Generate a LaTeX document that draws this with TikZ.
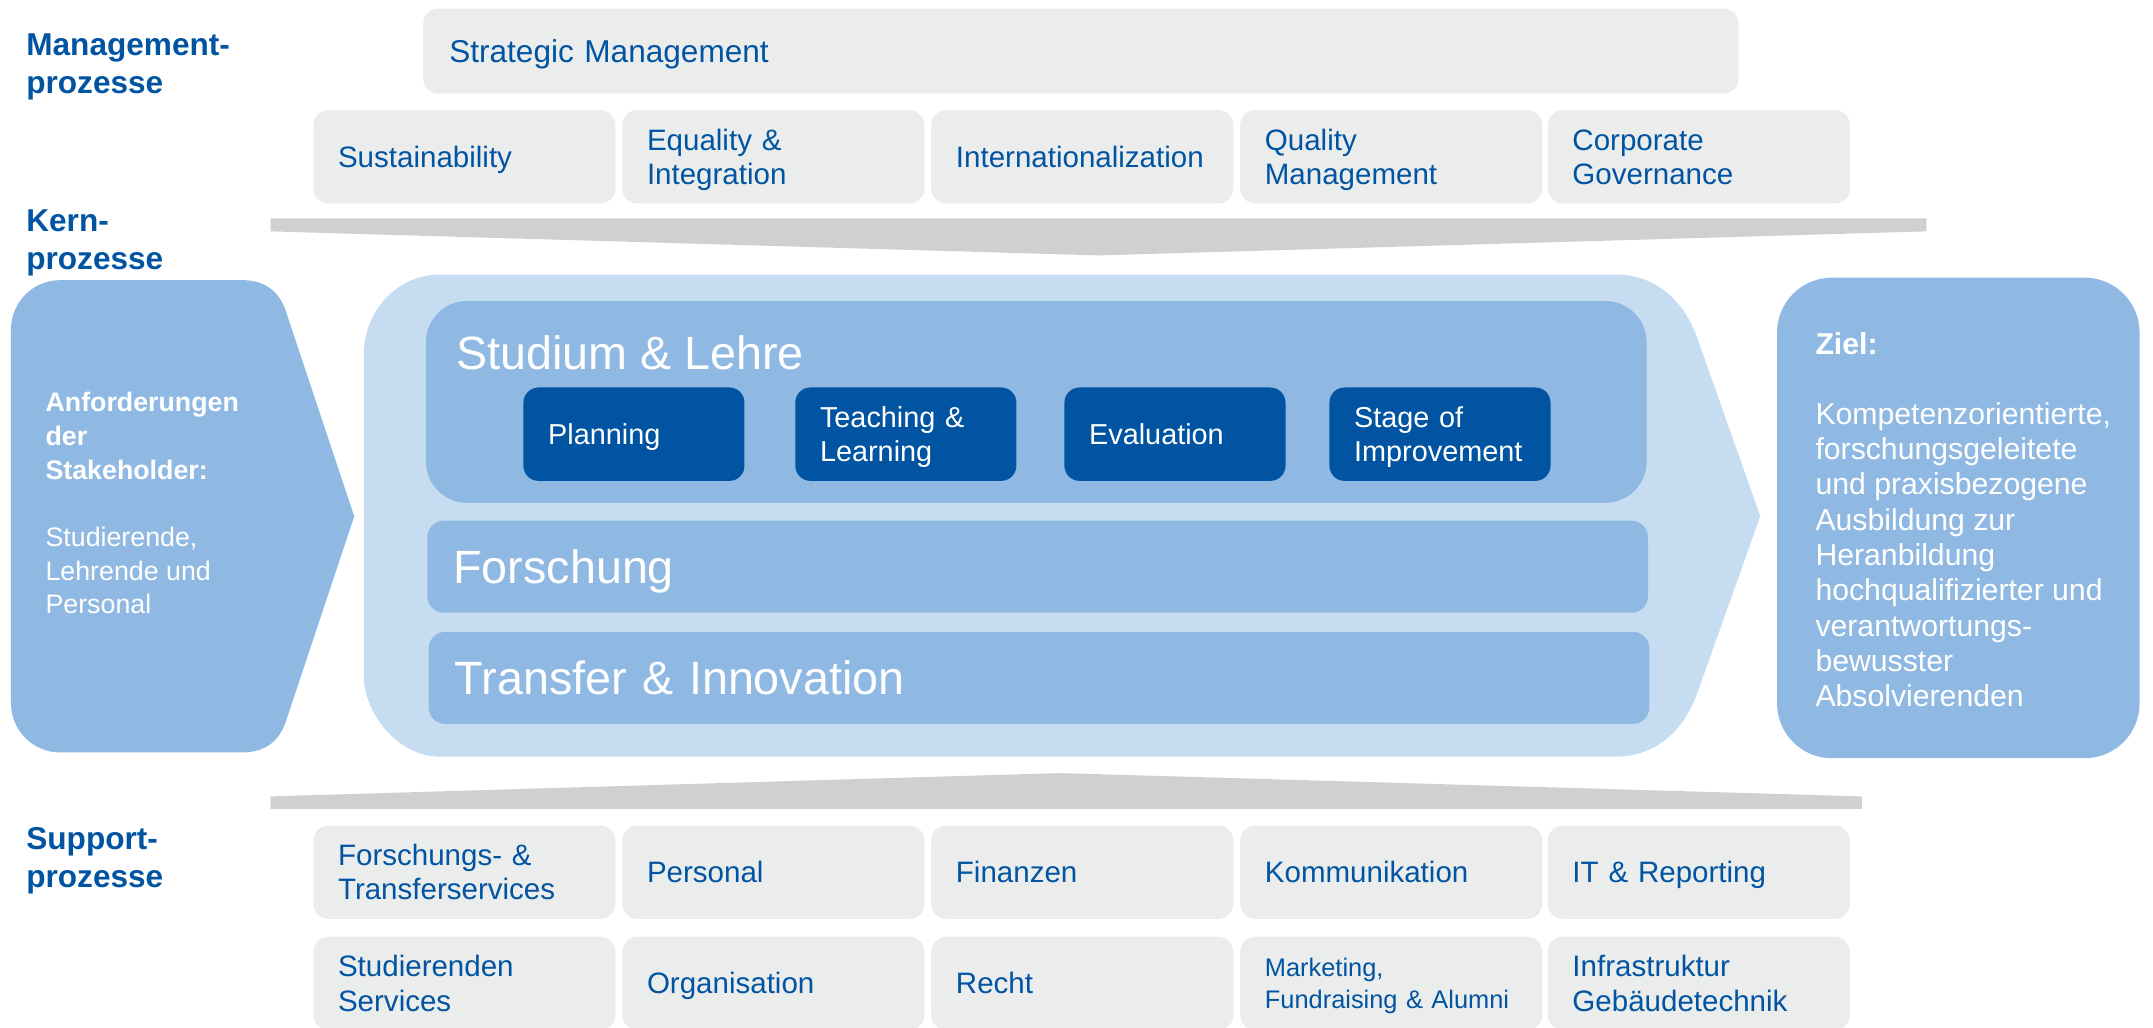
\documentclass[tikz,border=0pt]{standalone}
\usepackage{fontspec}
\setmainfont{Liberation Sans}
\definecolor{grayF}{RGB}{235,236,236}
\definecolor{barG}{RGB}{207,208,210}
\definecolor{blueL}{RGB}{143,185,227}
\definecolor{blueP}{RGB}{198,221,241}
\definecolor{blueD}{RGB}{0,84,161}
\definecolor{txtB}{RGB}{0,84,161}
\newcommand\capTop{\rule{0pt}{0.926em}}
\newcommand\capBot{\rule[-0.212em]{0pt}{0pt}}
\begin{document}
\begin{tikzpicture}[x=1pt,y=-1pt,
  capc/.style={execute at begin node=\capTop, execute at end node=\capBot},
  gbox/.style={capc, fill=grayF, rounded corners=11pt, anchor=north west, inner xsep=18pt, inner ysep=0pt,
    align=left, text=txtB, minimum height=68pt, text width=184pt, font=\fontsize{21.5pt}{25pt}\selectfont},
  dbox/.style={capc, fill=blueD, rounded corners=11pt, anchor=north west, inner xsep=18pt, inner ysep=0pt,
    align=left, text=white, minimum height=68pt, text width=125pt, font=\fontsize{21pt}{25pt}\selectfont},
  lbox/.style={capc, fill=blueL, anchor=north west, inner xsep=19pt, inner ysep=0pt, align=left, text=white,
    font=\fontsize{34pt}{40pt}\selectfont},
  sidelabel/.style={capc, anchor=west, align=left, inner sep=0pt, text=txtB,
    font=\fontsize{23pt}{27.5pt}\selectfont\bfseries},
  wtext/.style={anchor=west, align=left, inner sep=0pt, text=white}
]
\useasboundingbox (0,0) rectangle (1568,748);
\clip (0,0) rectangle (1568,748);

% side labels
\node[sidelabel] (lmgmt) at (19,49) {Management-\\prozesse};
\node[sidelabel] (lkern) at (19,177) {Kern-\\prozesse};
\node[sidelabel] (lsupp) at (19,627) {Support-\\prozesse};

% management processes
\node[gbox, text width=920pt, inner xsep=19pt, minimum height=62pt, font=\fontsize{23pt}{27pt}\selectfont] (stm) at (308,6) {Strategic Management};
\node[gbox] (sus) at (228,80) {Sustainability};
\node[gbox] (equ) at (453,80) {Equality \&\\Integration};
\node[gbox] (int) at (678,80) {Internationalization};
\node[gbox] (qua) at (903,80) {Quality\\Management};
\node[gbox] (cor) at (1127,80) {Corporate\\Governance};

% gray bars
\path[fill=barG] (197,159) -- (1403,159) -- (1403,168.5) -- (800,186) -- (197,168.5) -- cycle;
\path[fill=barG] (197,589) -- (1356,589) -- (1356,580) -- (772,563) -- (197,580) -- cycle;

% left arrow (requirements)
\path[fill=blueL] (8,240) -- (8,512) .. controls (8,532) and (24,548) .. (44,548) -- (176,548)
  .. controls (193,548) and (203,540) .. (208,526) -- (258,376) -- (208,226)
  .. controls (203,212) and (193,204) .. (176,204) -- (44,204) .. controls (24,204) and (8,220) .. (8,240) -- cycle;
\node[wtext, font=\fontsize{19.5pt}{24.6pt}\selectfont\bfseries] (anf) at (33,317.5) {Anforderungen\\der\\Stakeholder:};
\node[wtext, font=\fontsize{19.5pt}{24.6pt}\selectfont] (stud) at (33,415.5) {Studierende,\\Lehrende und\\Personal};

% central container
\path[fill=blueP] (265,258) -- (265,493) .. controls (265,519) and (289.6,551) .. (320,551) -- (1177,551)
  .. controls (1205,551) and (1226,533) .. (1236,505) -- (1282,376) -- (1236,246)
  .. controls (1226,218) and (1205,200) .. (1177,200) -- (320,200)
  .. controls (289.6,200) and (265,226) .. (265,258) -- cycle;

\node[lbox, minimum width=889pt, minimum height=147pt, rounded corners=30pt] (stl) at (310,219) {};
\node[anchor=base west, inner sep=0pt, text=white, font=\fontsize{34pt}{40pt}\selectfont] (stlt) at (332,269) {Studium \& Lehre};
\node[dbox] (pla) at (381,282) {Planning};
\node[dbox] (tea) at (579,282) {Teaching \&\\Learning};
\node[dbox] (eva) at (775,282) {Evaluation};
\node[dbox] (sta) at (968,282) {Stage of\\Improvement};

\node[lbox, text width=851pt, minimum height=67pt, rounded corners=12pt] (fo) at (311,379) {Forschung};
\node[lbox, text width=851pt, minimum height=67pt, rounded corners=12pt] (tr) at (312,460) {Transfer \& Innovation};

% goal box
\node[fill=blueL, rounded corners=40pt, minimum width=264pt, minimum height=350pt, anchor=north west, inner sep=0pt] (ziel) at (1294,202) {};
\node[anchor=base west, inner sep=0pt, text=white, font=\fontsize{22pt}{26pt}\selectfont\bfseries] (zielt) at (1322,258) {Ziel:};
\node[wtext, font=\fontsize{22pt}{25.75pt}\selectfont] (zielb) at (1322,404) {Kompetenzorientierte,\\forschungsgeleitete\\und praxisbezogene\\Ausbildung zur\\Heranbildung\\hochqualifizierter und\\verantwortungs-\\bewusster\\Absolvierenden};

% support processes
\node[gbox] (fts) at (228,601) {Forschungs- \&\\Transferservices};
\node[gbox] (per) at (453,601) {Personal};
\node[gbox] (fin) at (678,601) {Finanzen};
\node[gbox] (kom) at (903,601) {Kommunikation};
\node[gbox] (itr) at (1127,601) {IT \& Reporting};
\node[gbox] (sse) at (228,682) {Studierenden\\Services};
\node[gbox] (org) at (453,682) {Organisation};
\node[gbox] (rec) at (678,682) {Recht};
\node[gbox, font=\fontsize{18.5pt}{24pt}\selectfont] (mar) at (903,682) {Marketing,\\Fundraising \& Alumni};
\node[gbox] (inf) at (1127,682) {Infrastruktur\\Gebäudetechnik};
\end{tikzpicture}
\end{document}
